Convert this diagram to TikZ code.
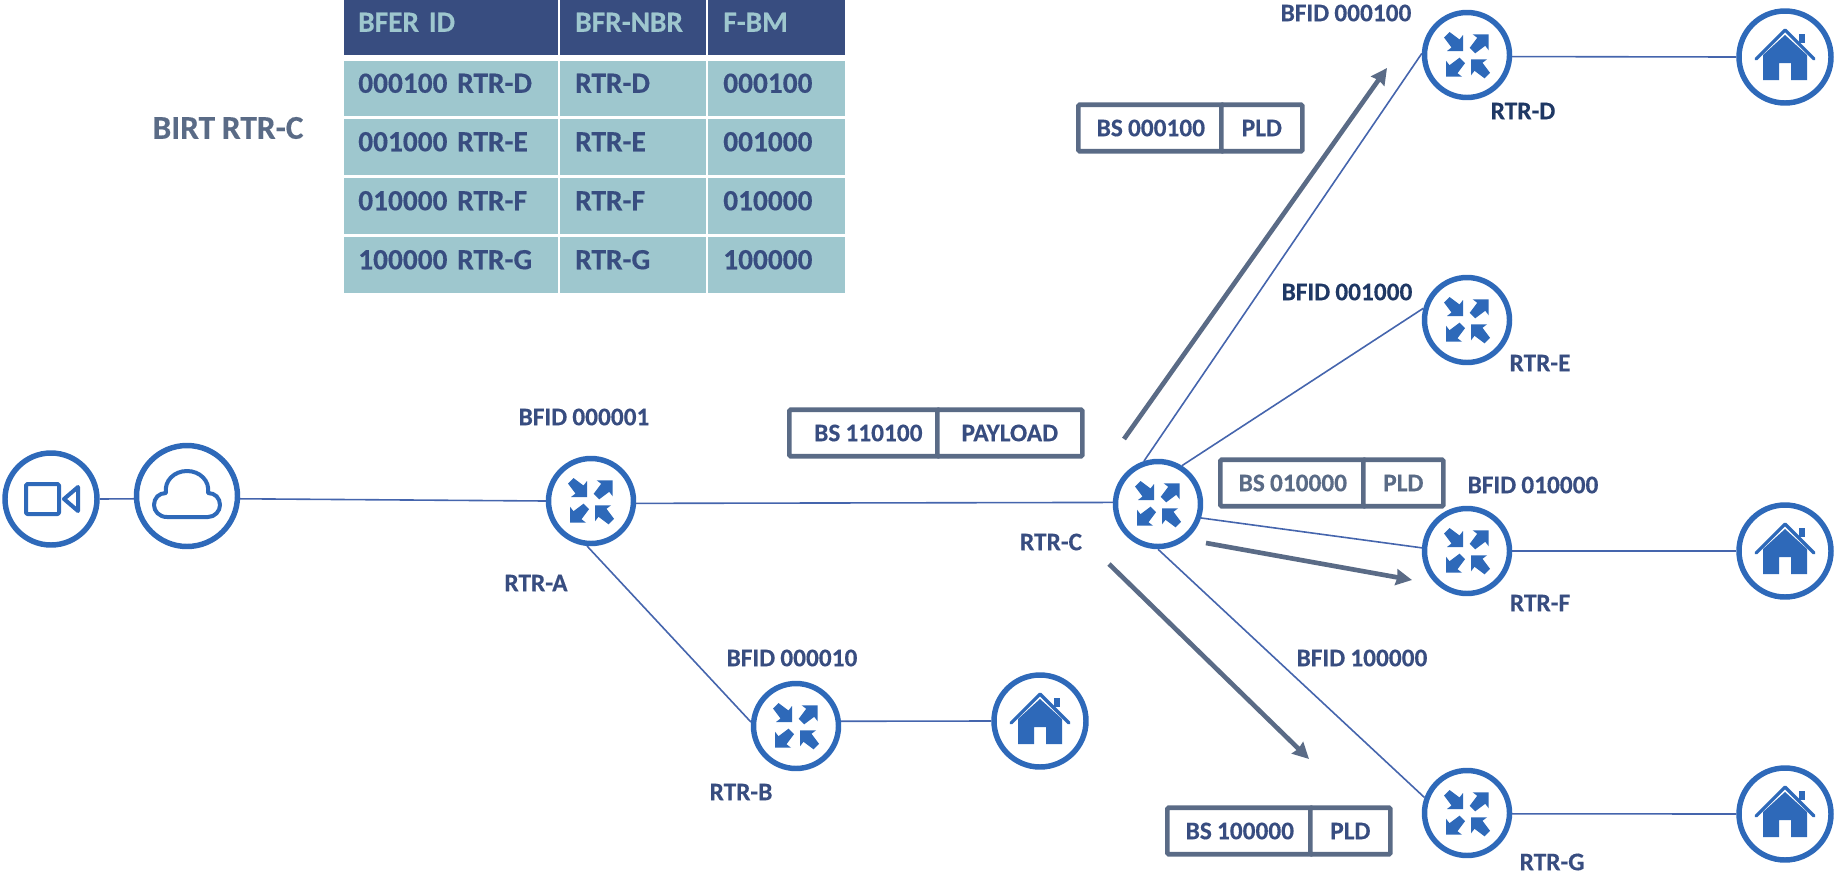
\documentclass[tikz,border=0pt]{standalone}
\usepackage{fontspec}
\setmainfont[WordSpace=0.9,BoldFeatures={FakeBold=0.35}]{Carlito}
\usetikzlibrary{arrows.meta}
\definecolor{iconblue}{HTML}{2E69B9}
\definecolor{linkblue}{HTML}{4565AD}
\definecolor{slate}{HTML}{5A6B86}
\definecolor{navy}{HTML}{384D80}
\definecolor{deepnavy}{HTML}{1F3864}
\definecolor{teal}{HTML}{9EC7CE}
\tikzset{
  x=0.75pt,y=-0.75pt,
  circ/.style={circle,draw=iconblue,fill=white,line width=4.1pt,inner sep=0pt,minimum size=#1*0.75pt},
  link/.style={draw=linkblue,line width=1.2pt},
  flow/.style={draw=slate,line width=3.5pt,-{Stealth[length=12pt,width=12pt,inset=1pt]}},
  lab/.style={text=navy,font=\fontsize{19}{22}\selectfont\bfseries,inner sep=0pt},
  cell/.style={anchor=north west,inner sep=0pt,align=left,text height=14pt,text depth=8pt,font=\fontsize{22}{24}\selectfont\bfseries},
  pktbox/.style={draw=slate,line width=3.5pt,rounded corners=1pt,fill=white,inner sep=0pt,text=navy,font=\fontsize{19}{22}\selectfont\bfseries,minimum height=#1},
  routericon/.pic={
    \foreach \tx/\ty/\sx/\sy in {21.7/-20.7/1/1,-21/21.7/-1/-1,-4/-4/1/-1,4/4.3/-1/1}{
      \fill[iconblue,shift={(\tx,\ty)},xscale=\sx,yscale=\sy]
        (0,0)--(0,16)--(-3.5,11.5)--(-13.5,19)--(-19,13.5)--(-11.5,3.5)--(-16,0)--cycle;
    }
  },
  houseicon/.pic={
    \fill[iconblue] (-22,-2)--(0,-22)--(22,-2)--(22,23)--(6,23)--(6,6)--(-6,6)--(-6,23)--(-22,23)--cycle;
    \draw[iconblue,line width=2.4pt,line cap=round,line join=round] (-29,2)--(0,-27)--(29,2);
    \fill[iconblue] (14,-23) rectangle (20,-14);
  },
  cloudicon/.pic={
    \draw[iconblue,line width=3pt,line join=round]
      (-20,21)--(21,21) .. controls (28,21) and (33,15) .. (33,9)
      .. controls (33,2) and (28,-3) .. (21,-3)
      .. controls (23,-15) and (13,-25) .. (0,-25)
      .. controls (-13,-25) and (-23,-15) .. (-21,-3)
      .. controls (-28,-3) and (-33,2) .. (-33,9)
      .. controls (-33,15) and (-28,21) .. (-20,21)--cycle;
  },
  camicon/.pic={
    \draw[iconblue,line width=3pt,line join=round,rounded corners=1pt] (-25,-15) rectangle (8,15);
    \draw[iconblue,line width=3pt,line join=round] (13,0)--(27,-12)--(27,12)--cycle;
  }
}
\newcommand{\cellbox}[8]{\node[cell,fill=#6,text=#7,minimum width=#3*0.75pt,minimum height=#4*0.75pt,text width=#3*0.75pt] (#1) at (#2) {\hspace*{#8\dimexpr 0.75pt\relax}#5};}
\begin{document}
\begin{tikzpicture}
\useasboundingbox (0,0) rectangle (1836,875);
\node[circ=92] (cam) at (51,499) {};
\node[circ=101] (cloud) at (187,496) {};
\node[circ=85] (A) at (591,501) {};
\node[circ=85] (B) at (796,726) {};
\node[circ=85] (C) at (1158,504) {};
\node[circ=85] (D) at (1467,55) {};
\node[circ=85] (E) at (1467,320) {};
\node[circ=85] (F) at (1467,551) {};
\node[circ=85] (G) at (1467,813) {};
\node[circ=92] (hB) at (1040,721) {};
\node[circ=92] (hD) at (1785,57) {};
\node[circ=92] (hF) at (1785,551) {};
\node[circ=92] (hG) at (1785,814) {};
\draw[link] (cam.east) -- (cloud.-177);
\draw[link] (cloud.-3) -- (A.west);
\draw[link] (A.-3) -- (C.178);
\draw[link] (A.-95) -- (B.175);
\draw[link] (B.6) -- (hB.west);
\draw[link] (C.108) -- (D.178);
\draw[link] (C.58) -- (E.165);
\draw[link] (C.-18) -- (F.176);
\draw[link] (C.-90) -- (G.160);
\draw[link] (D.-2) -- (hD.west);
\draw[link] (F.east) -- (hF.west);
\draw[link] (G.-1) -- (hG.west);
\foreach \n in {A,B,C,D,E,F,G}{\pic at (\n) {routericon};}
\foreach \n in {hB,hD,hF,hG}{\pic at (\n) {houseicon};}
\pic at (cloud) {cloudicon};
\pic at (cam) {camicon};
\coordinate (f1a) at (1124,439); \coordinate (f1b) at (1387,68);
\coordinate (f2a) at (1206,543); \coordinate (f2b) at (1412,580);
\coordinate (f3a) at (1109,564); \coordinate (f3b) at (1309,759);
\draw[flow] (f1a) -- (f1b);
\draw[flow] (f2a) -- (f2b);
\draw[flow] (f3a) -- (f3b);
\foreach \nm/\y/\h/\fa/\fb/\fc/\bg/\fg in {
 hdr/0/55/BFER ID/BFR-NBR/F-BM/navy/teal,
 r1/61/55/000100 RTR-D/RTR-D/000100/teal/navy,
 r2/119/56/001000 RTR-E/RTR-E/001000/teal/navy,
 r3/178/56/010000 RTR-F/RTR-F/010000/teal/navy,
 r4/237/56/100000 RTR-G/RTR-G/100000/teal/navy}{
  \cellbox{\nm a}{344,\y}{214}{\h}{\fa}{\bg}{\fg}{14}
  \cellbox{\nm b}{560,\y}{146}{\h}{\fb}{\bg}{\fg}{15}
  \cellbox{\nm c}{708,\y}{137}{\h}{\fc}{\bg}{\fg}{15}
}
\node[text=slate,font=\fontsize{25}{28}\selectfont\bfseries,inner sep=0pt] (birt) at (228,128) {BIRT RTR-C};
\node[lab] (la1) at (584,417) {BFID 000001};
\node[lab] (la2) at (536,583) {RTR-A};
\node[lab] (lb1) at (792,658) {BFID 000010};
\node[lab] (lb2) at (741,792) {RTR-B};
\node[lab] (lc) at (1051,542) {RTR-C};
\node[lab] (ld1) at (1346,13) {BFID 000100};
\node[lab,text=deepnavy] (ld2) at (1523,111) {RTR-D};
\node[lab,text=deepnavy] (le1) at (1347,292) {BFID 001000};
\node[lab] (le2) at (1540,363) {RTR-E};
\node[lab] (lf1) at (1533,485) {BFID 010000};
\node[lab] (lf2) at (1540,603) {RTR-F};
\node[lab] (lg1) at (1362,658) {BFID 100000};
\node[lab] (lg2) at (1552,862) {RTR-G};
\node[pktbox=46.5*0.75pt,anchor=west,minimum width=150*0.75pt] (p1a) at (787,433) {\hspace*{6pt}BS 110100};
\node[pktbox=46.5*0.75pt,anchor=west,minimum width=145*0.75pt] (p1b) at (935,433) {PAYLOAD};
\node[pktbox=46.5*0.75pt,anchor=west,minimum width=145*0.75pt] (p2a) at (1076,128) {BS 000100};
\node[pktbox=46.5*0.75pt,anchor=west,minimum width=81*0.75pt] (p2b) at (1219,128) {PLD};
\node[pktbox=46.5*0.75pt,anchor=west,minimum width=145*0.75pt,text=slate] (p3a) at (1218,483) {BS 010000};
\node[pktbox=46.5*0.75pt,anchor=west,minimum width=80*0.75pt,text=slate] (p3b) at (1361,483) {PLD};
\node[pktbox=46.5*0.75pt,anchor=west,minimum width=145*0.75pt] (p4a) at (1165,831) {BS 100000};
\node[pktbox=46.5*0.75pt,anchor=west,minimum width=80*0.75pt] (p4b) at (1308,831) {PLD};
\end{tikzpicture}
\end{document}
